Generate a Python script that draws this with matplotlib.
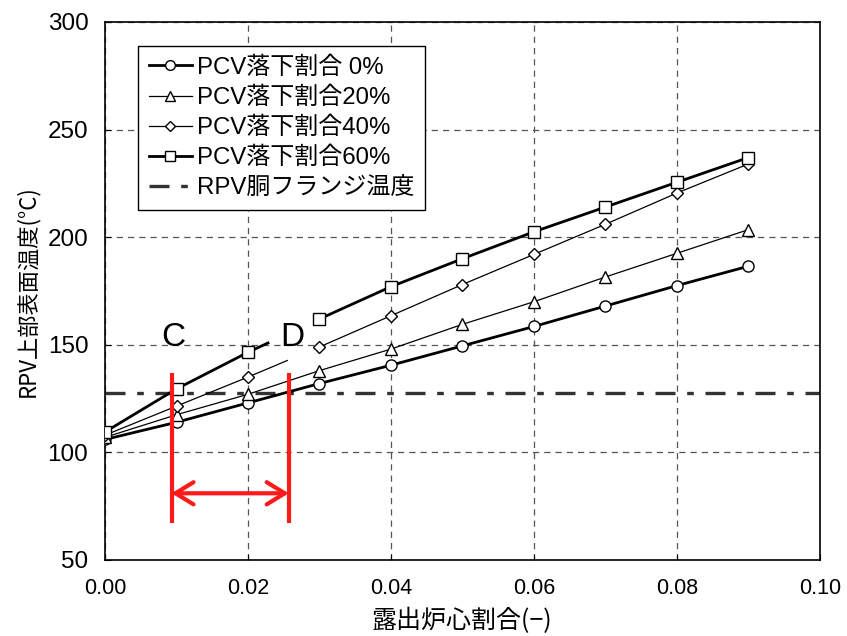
import numpy as np
import matplotlib
matplotlib.use("Agg")
import matplotlib.pyplot as plt

plt.rcParams['font.family'] = ['Liberation Sans', 'Noto Sans CJK JP', 'DejaVu Sans']

x = [0.00, 0.01, 0.02, 0.03, 0.04, 0.05, 0.06, 0.07, 0.08, 0.09]
y0 = [106, 114, 123, 132, 140.5, 149.5, 158.5, 168, 177.5, 186.5]
y20 = [107, 117.5, 127, 138, 148, 159.5, 170, 181.5, 192.5, 203.5]
y40 = [108, 121.5, 135, 149, 163.5, 178, 192, 206, 220.5, 234]
y60 = [109.5, 129.5, 146.5, 162, 177, 190, 202.5, 214, 225.5, 237]
flange_temp = 127.5
labels = ['PCV落下割合 0%', 'PCV落下割合20%', 'PCV落下割合40%', 'PCV落下割合60%']
flange_label = 'RPV胴フランジ温度'
xticks = [0.00, 0.02, 0.04, 0.06, 0.08, 0.10]
yticks = [50, 100, 150, 200, 250, 300]
xlabel = '露出炉心割合(−)'
ylabel = 'RPV上部表面温度(°C)'
# range C-D
c_x, d_x = 0.0093, 0.0257
label_c_x, label_d_x, label_y = 0.0095, 0.0262, 153.5
# where lines of the 40%/60% series are broken between 0.02 and 0.03
break_x = {2: 0.0255, 3: 0.0228}

fig = plt.figure(figsize=(8.47, 6.36), dpi=100)
ax = fig.add_axes([0.124, 0.1195, 0.844, 0.846])

series = [y0, y20, y40, y60]
markers = ['o', '^', 'D', 's']
msizes = [8, 8, 6, 8]
lws = [2.0, 0.9, 0.9, 2.0]
handles = []
for i, ys in enumerate(series):
    if i in break_x:
        xb = break_x[i]
        yb = float(np.interp(xb, x, ys))
        ax.plot(x[:3] + [xb], ys[:3] + [yb], color='black', lw=lws[i], zorder=3)
        ax.plot(x[3:], ys[3:], color='black', lw=lws[i], zorder=3)
    else:
        ax.plot(x, ys, color='black', lw=lws[i], zorder=3)
    ax.plot(x, ys, linestyle='none', marker=markers[i], ms=msizes[i],
            mfc='white', mec='black', mew=1.0, zorder=4)
    h, = ax.plot([], [], color='black', lw=lws[i], marker=markers[i], ms=msizes[i] - 1,
                 mfc='white', mec='black', mew=1.0)
    handles.append(h)

fl = ax.axhline(flange_temp, color='#333333', lw=2.4, zorder=2,
                linestyle=(0, (6, 3.5, 2, 3.5)))
handles.append(fl)

# red annotation
for xv in (c_x, d_x):
    ax.plot([xv, xv], [67, 137], color='#ff1a1a', lw=3.0, zorder=5, solid_capstyle='butt')
ax.annotate('', xy=(d_x, 81), xytext=(c_x, 81),
            arrowprops=dict(arrowstyle='<->,head_length=1.3,head_width=0.8',
                            color='#ff1a1a', lw=3.0, shrinkA=0, shrinkB=0), zorder=5)
ax.text(label_c_x, label_y, 'C', fontsize=24, ha='center', va='center',
        family=['Liberation Sans', 'DejaVu Sans'])
ax.text(label_d_x, label_y, 'D', fontsize=24, ha='center', va='center',
        family=['Liberation Sans', 'DejaVu Sans'])

ax.set_xlim(0, 0.10)
ax.set_ylim(50, 300)
ax.set_xticks(xticks)
ax.set_yticks(yticks)
ax.set_xticklabels([f'{v:.2f}' for v in xticks])
ax.set_yticklabels([str(v) for v in yticks])
ax.tick_params(direction='in', length=4, color='black')
ax.tick_params(axis='x', pad=13, labelsize=15.5)
ax.tick_params(axis='y', pad=12, labelsize=17.5)
ax.grid(True, color='#555555', linestyle=(0, (5, 4)), lw=0.9)
for s in ax.spines.values():
    s.set_linewidth(1.2)

ax.set_xlabel(xlabel, fontsize=18, labelpad=6, family=['Noto Sans CJK JP', 'DejaVu Sans'])
ax.set_ylabel(ylabel, fontsize=16, labelpad=6, family=['Noto Sans CJK JP', 'DejaVu Sans'])

leg = ax.legend(handles, labels + [flange_label], loc='upper left',
                bbox_to_anchor=(0.046, 0.956), frameon=True,
                fancybox=False, edgecolor='black', framealpha=1,
                handlelength=1.8, handletextpad=0.2, labelspacing=0.32,
                borderpad=0.45, borderaxespad=0,
                prop={'family': ['Liberation Sans', 'Noto Sans CJK JP'], 'size': 17.3})
leg.get_frame().set_linewidth(1.0)
leg.set_zorder(6)

fig.savefig('out.png', dpi=100)
